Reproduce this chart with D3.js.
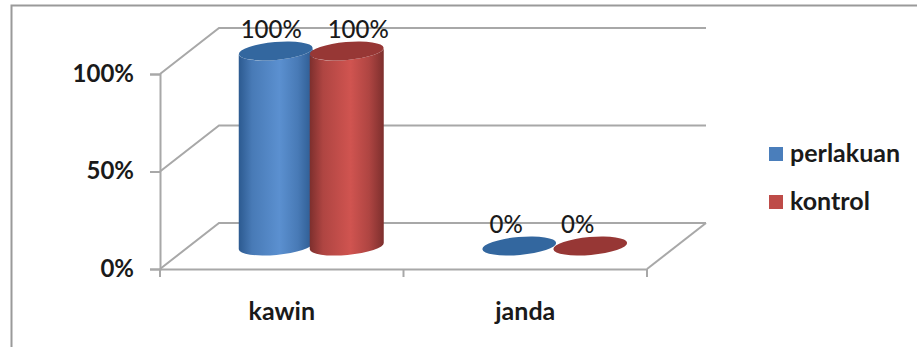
<!DOCTYPE html>
<html>
<head>
<meta charset="utf-8">
<script src="https://cdn.jsdelivr.net/npm/d3@7"></script>
<style>
    html, body { margin: 0; padding: 0; background: #fff; }
    svg { display: block; }
    text { font-family: Lato, "Open Sans", sans-serif; fill: #1a1a1a; }
</style>
</head>
<body>
<div id="chart"></div>
<script>
var aCategories = ['kawin', 'janda'];
var aPerlakuan = [1, 0];
var aKontrol = [1, 0];
var aTicks = [0, 0.5, 1];
var aSeriesNames = ['perlakuan', 'kontrol'];

var iWidth = 917;
var iHeight = 347;

// Oblique offset of the back wall from the front of the box
var iDepthX = 59;
var iDepthY = -46;

var sGrid = '#a8a8a8';

var oStyles = [
    { sLight: '#5b90d0', sDark: '#2c5a90', sTop: '#33679f', sKey: '#4a7ebb' },
    { sLight: '#d05450', sDark: '#7d2f2d', sTop: '#973735', sKey: '#be4b48' }
];

var aSeries = [aPerlakuan, aKontrol];

var x = d3.scaleBand().domain(aCategories).range([160, 647]);
var y = d3.scaleLinear().domain([0, 1]).range([269, 74]);

var dSVG = d3.select('#chart').append('svg')
    .attr('width', iWidth)
    .attr('height', iHeight);

// Frame around the figure
dSVG.append('path')
    .attr('d', 'M917,5.5H11.5V347')
    .attr('fill', 'none')
    .attr('stroke', '#9a9a9a')
    .attr('stroke-width', 2);

// Horizontal gradient that makes the bodies look round
var dDefs = dSVG.append('defs');
oStyles.forEach(function(oStyle, i) {
    var dGrad = dDefs.append('linearGradient').attr('id', 'body' + i);
    [[0, oStyle.sDark], [0.18, d3.interpolateRgb(oStyle.sDark, oStyle.sLight)(0.6)], [0.55, oStyle.sLight], [0.8, d3.interpolateRgb(oStyle.sDark, oStyle.sLight)(0.6)], [1, oStyle.sDark]].forEach(function(aStop) {
        dGrad.append('stop').attr('offset', aStop[0]).attr('stop-color', aStop[1]);
    });
});

// Back wall lines and the side wall going up to them
var dWalls = dSVG.append('g')
    .attr('fill', 'none')
    .attr('stroke', sGrid)
    .attr('stroke-width', 2);

aTicks.forEach(function(fTick) {
    var iY = y(fTick);
    dWalls.append('path')
        .attr('d', 'M160,' + iY + 'L' + (160 + iDepthX) + ',' + (iY + iDepthY) + 'H' + (x.range()[1] + iDepthX));
});

// Right edge of the floor
dWalls.append('path')
    .attr('d', 'M' + x.range()[1] + ',' + y(0) + 'L' + (x.range()[1] + iDepthX) + ',' + (y(0) + iDepthY));

// Value axis on the front left edge
var dAxisY = dSVG.append('g')
    .attr('transform', 'translate(160,0)')
    .call(d3.axisLeft(y).tickValues(aTicks).tickFormat(d3.format('.0%')).tickSize(10).tickPadding(16));
dAxisY.select('.domain').attr('stroke', sGrid).attr('stroke-width', 2);
dAxisY.selectAll('.tick line').attr('stroke', sGrid).attr('stroke-width', 2);
dAxisY.selectAll('.tick text')
    .style('font-family', 'Lato, sans-serif')
    .style('font-size', '24px')
    .style('font-weight', 700)
    .attr('dy', '0.3em');

// Category axis, tick marks sit between the bands
var dAxisX = dSVG.append('g')
    .attr('transform', 'translate(0,' + y(0) + ')')
    .call(d3.axisBottom(x).tickSize(0).tickPadding(33));
dAxisX.select('.domain').attr('stroke', sGrid).attr('stroke-width', 2);
dAxisX.selectAll('.tick text')
    .style('font-family', 'Lato, sans-serif')
    .style('font-size', '25px')
    .style('font-weight', 700);

dAxisX.selectAll('line.edge')
    .data([x.range()[0], x(aCategories[1]), x.range()[1]])
    .enter().append('line')
    .attr('class', 'edge')
    .attr('x1', function(d) { return d; })
    .attr('x2', function(d) { return d; })
    .attr('y1', 0)
    .attr('y2', 8)
    .attr('stroke', sGrid)
    .attr('stroke-width', 2);

// Cylinders stand halfway between the front and the back wall
var iRx = 37;
var iRy = 9;
var fTilt = -5;
var iLean = iRx * Math.sin(-fTilt * Math.PI / 180);
var iOverlap = 35.5;

function cylinderPath(iCx, iTop, iBottom) {
    var sArc = 'A' + iRx + ',' + iRy + ' ' + fTilt + ' 0 ';
    return 'M' + (iCx - iRx) + ',' + (iTop + iLean)
        + 'L' + (iCx - iRx) + ',' + (iBottom + iLean)
        + sArc + '0 ' + (iCx + iRx) + ',' + (iBottom - iLean)
        + 'L' + (iCx + iRx) + ',' + (iTop - iLean)
        + sArc + '1 ' + (iCx - iRx) + ',' + (iTop + iLean) + 'Z';
}

var dBars = dSVG.append('g');

aSeries.forEach(function(aValues, iSeries) {
    aValues.forEach(function(fValue, iCat) {
        var iCx = x(aCategories[iCat]) + x.bandwidth() / 2 + iDepthX / 2 + (iSeries === 0 ? -iOverlap : iOverlap);
        var iBase = y(0) + iDepthY / 2;
        var iTop = y(fValue) + iDepthY / 2;

        if (fValue > 0) {
            dBars.append('path')
                .attr('d', cylinderPath(iCx, iTop, iBase))
                .attr('fill', 'url(#body' + iSeries + ')');
        }

        dBars.append('ellipse')
            .attr('cx', iCx)
            .attr('cy', iTop)
            .attr('rx', iRx)
            .attr('ry', iRy)
            .attr('transform', 'rotate(' + fTilt + ' ' + iCx + ' ' + iTop + ')')
            .attr('fill', oStyles[iSeries].sTop);
    });
});

// Value labels, nudged off the cylinder tops
var aLabelShift = [[-4.5, 11.5], [-13, -12.5]];

aSeries.forEach(function(aValues, iSeries) {
    aValues.forEach(function(fValue, iCat) {
        var iCx = x(aCategories[iCat]) + x.bandwidth() / 2 + iDepthX / 2 + (iSeries === 0 ? -iOverlap : iOverlap);
        dSVG.append('text')
            .attr('x', iCx + aLabelShift[iCat][iSeries])
            .attr('y', y(fValue) + iDepthY / 2 - 13)
            .attr('text-anchor', 'middle')
            .style('font-size', '24px')
            .style('font-weight', 500)
            .text(d3.format('.0%')(fValue));
    });
});

// Legend
var yLegend = d3.scalePoint().domain(aSeriesNames).range([154, 202]);

var dLegend = dSVG.append('g')
    .selectAll('g')
    .data(aSeriesNames)
    .enter().append('g')
    .attr('transform', function(d) { return 'translate(769,' + yLegend(d) + ')'; });

dLegend.append('rect')
    .attr('y', -7)
    .attr('width', 14)
    .attr('height', 14)
    .attr('fill', function(d, i) { return oStyles[i].sKey; });

dLegend.append('text')
    .attr('x', 21)
    .attr('y', 8)
    .style('font-size', '25px')
    .style('font-weight', 700)
    .text(function(d) { return d; });
</script>
</body>
</html>
